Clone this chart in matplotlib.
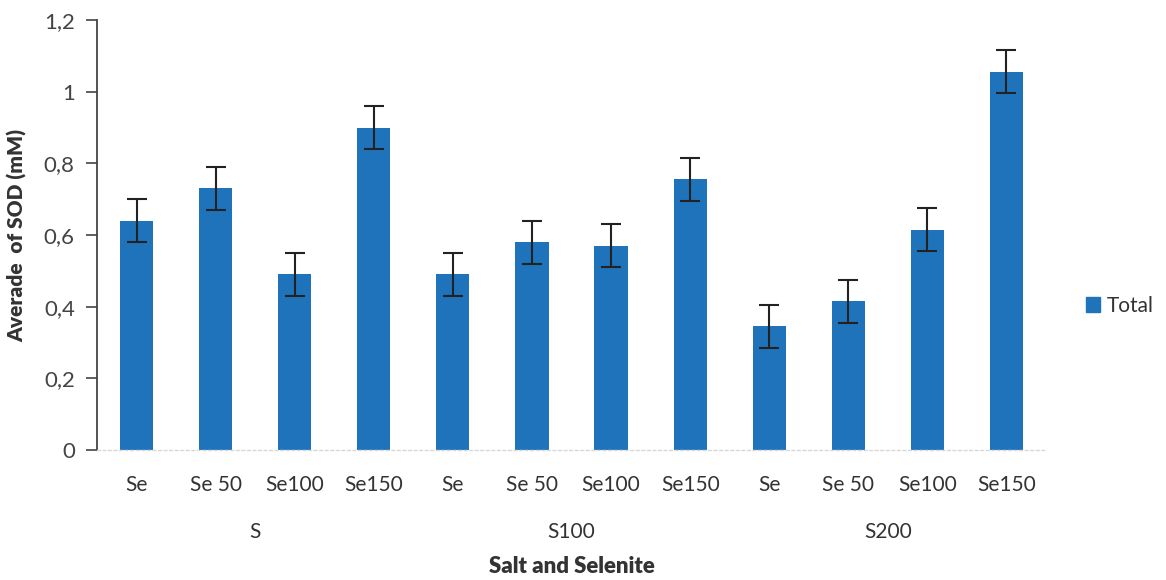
import matplotlib
matplotlib.use("Agg")
import matplotlib.pyplot as plt
from matplotlib.ticker import FuncFormatter, MultipleLocator
from matplotlib.patches import Patch
import numpy as np

plt.rcParams['font.family'] = ['Lato', 'DejaVu Sans']

# Selenite treatments within each salt level
selenite = ["Se", "Se 50", "Se100", "Se150"]
salt_groups = ["S", "S100", "S200"]

# Mean SOD per treatment (S, S100, S200 in order) and standard errors
sod_mean = [0.64, 0.73, 0.49, 0.90,
            0.49, 0.58, 0.57, 0.755,
            0.345, 0.415, 0.615, 1.055]
sod_err = [0.06, 0.06, 0.06, 0.06,
           0.06, 0.06, 0.06, 0.06,
           0.06, 0.06, 0.06, 0.06]

bar_color = "#1F73BB"
text_color = "#333333"

fig = plt.figure(figsize=(11.66, 5.8), dpi=100)
ax = fig.add_axes([0.0832, 0.2241, 0.8139, 0.7414])

x = np.arange(len(sod_mean))
ax.bar(x, sod_mean, width=0.42, color=bar_color, zorder=2)
ax.errorbar(x, sod_mean, yerr=sod_err, fmt="none", ecolor="#222222",
            elinewidth=1.5, capsize=7, capthick=1.5, zorder=3)

ax.set_xlim(-0.5, len(sod_mean) - 0.5)
ax.set_ylim(0, 1.2)
ax.yaxis.set_major_locator(MultipleLocator(0.2))
ax.yaxis.set_major_formatter(
    FuncFormatter(lambda v, _: ("%g" % round(v, 1)).replace(".", ",")))

ax.set_xticks(x)
ax.set_xticklabels(selenite * len(salt_groups), fontsize=15, color=text_color)
ax.tick_params(axis="x", length=0, pad=18)
ax.tick_params(axis="y", direction="out", length=8, width=1.2,
               color="#444444", labelsize=16, labelcolor="#444444", pad=8)

for side in ("top", "right"):
    ax.spines[side].set_visible(False)
ax.spines["left"].set_color("#444444")
ax.spines["left"].set_linewidth(1.3)
ax.spines["bottom"].set_color("#d8d8d8")
ax.spines["bottom"].set_linewidth(1.0)
ax.spines["bottom"].set_linestyle((0, (2, 2)))

# Salt level labels centred under each group of four bars
n_sel = len(selenite)
for i, g in enumerate(salt_groups):
    centre = i * n_sel + (n_sel - 1) / 2
    ax.text(centre, -0.19, g, transform=ax.get_xaxis_transform(),
            ha="center", va="center", fontsize=15, color=text_color)

ax.set_xlabel("Salt and Selenite", fontsize=16, fontweight="heavy",
              color=text_color, labelpad=44)
ax.set_ylabel("Averade  of SOD (mM)", fontsize=15, fontweight="heavy",
              color=text_color, labelpad=12)

ax.legend(handles=[Patch(color=bar_color, label="Total")],
          loc="center left", bbox_to_anchor=(1.022, 0.335), frameon=False,
          fontsize=15, handlelength=0.7, handleheight=0.7,
          handletextpad=0.3, labelcolor=text_color)

fig.savefig("out.png", dpi=100, facecolor="white")
